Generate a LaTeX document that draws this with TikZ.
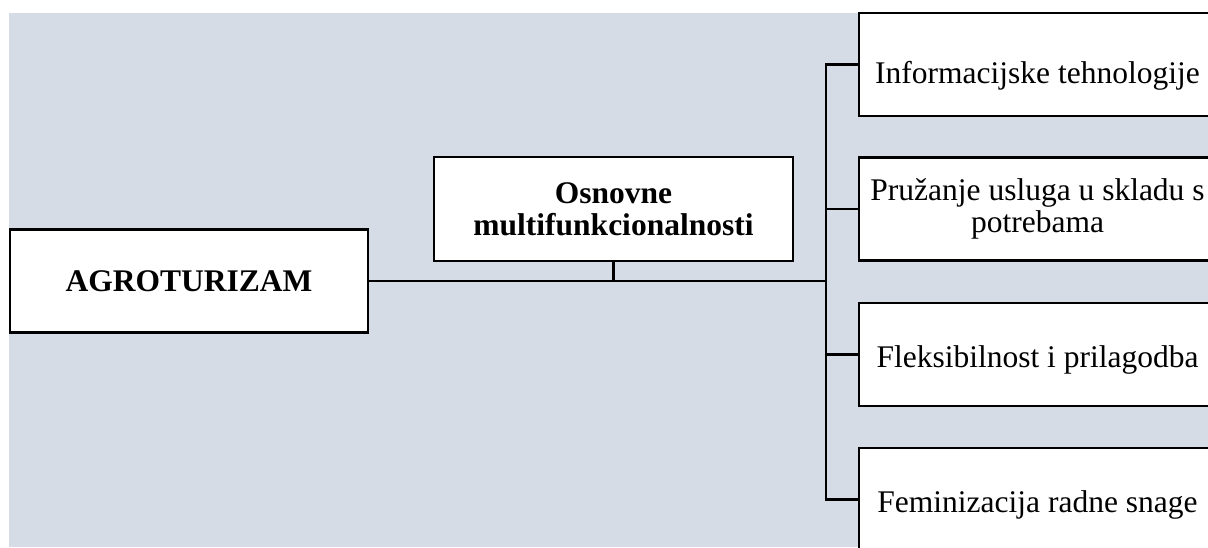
\documentclass[tikz,border=0pt]{standalone}
\usepackage{fontspec}
\setmainfont{Liberation Serif}
\definecolor{panelblue}{HTML}{D5DCE5}
\begin{document}
\begin{tikzpicture}[
        x=1pt, y=-1pt,
        box/.style={draw, fill=white, line width=2.6pt, minimum height=103pt, inner sep=0pt, align=center, font=\fontsize{31.5}{32}\selectfont},
        mainbox/.style={box, font=\fontsize{31.5}{32}\selectfont\bfseries},
        itembox/.style={box, minimum width=357pt, text height=28pt, text depth=3pt},
        link/.style={line width=2.6pt},
    ]
    \useasboundingbox (0,0) rectangle (1208,547);
    \clip (0,0) rectangle (1208,547);
    \fill[panelblue] (9,13) rectangle (1208,547);

    \node[mainbox, minimum width=358pt](agro) at (189,281){AGROTURIZAM};
    \node[mainbox, minimum width=359pt, minimum height=104pt](osnovne) at (613.5,209){Osnovne\\multifunkcionalnosti};
    \node[itembox, text height=40pt](info) at (1037.5,64.5){Informacijske tehnologije};
    \node[box, minimum width=357pt](usluge) at (1037.5,209){Pružanje usluga u skladu s\\potrebama};
    \node[itembox](fleks) at (1037.5,354.5){Fleksibilnost i prilagodba};
    \node[itembox](femin) at (1037.5,499.5){Feminizacija radne snage};

    \coordinate (bus) at (826,281);
    \draw[link] (agro.east) -- (bus);
    \draw[link] (osnovne.south) -- (osnovne.south |- bus);
    \draw[link] (info.west) -| (bus |- femin.west) -- (femin.west);
    \foreach \n in {usluge,fleks}
        \draw[link] (bus |- \n.west) -- (\n.west);
\end{tikzpicture}
\end{document}
